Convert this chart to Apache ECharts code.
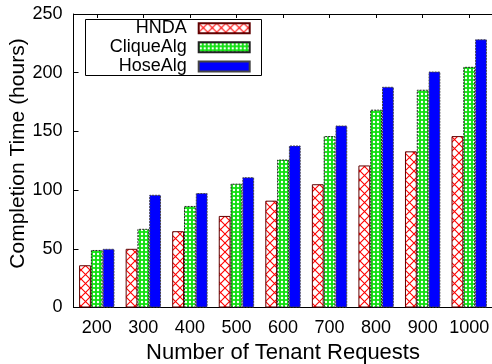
<!DOCTYPE html>
<html>
<head>
<meta charset="utf-8">
<script src="https://cdn.jsdelivr.net/npm/echarts@6/dist/echarts.min.js"></script>
<style>html,body{margin:0;padding:0;background:#fff}#c{width:492px;height:364px}</style>
</head>
<body>
<div id="c"></div>
<script>
var categories = ['200','300','400','500','600','700','800','900','1000'];
var hnda = [36, 50, 65, 78, 91, 105, 121, 133, 146];
var clique = [49, 67, 86.5, 105.5, 126, 146, 168.5, 185.5, 205];
var hose = [50, 96, 97.5, 111, 138, 155, 188, 201, 228.5];
var seriesNames = ['HNDA', 'CliqueAlg', 'HoseAlg'];
var yTicks = [0, 50, 100, 150, 200, 250];

function crossPattern() {
  var s = 9;
  var c = document.createElement('canvas'); c.width = s; c.height = s;
  var g = c.getContext('2d');
  g.fillStyle = '#fff'; g.fillRect(0, 0, s, s);
  g.strokeStyle = '#ff0000'; g.lineWidth = 1.1;
  g.beginPath(); g.moveTo(0, 0); g.lineTo(s, s); g.moveTo(s, 0); g.lineTo(0, s); g.stroke();
  return c;
}
function dotPattern() {
  var c = document.createElement('canvas'); c.width = 4; c.height = 4;
  var g = c.getContext('2d');
  g.fillStyle = '#10e010'; g.fillRect(0, 0, 4, 4);
  g.fillStyle = '#ffffff';
  g.beginPath(); g.arc(2, 2, 1.2, 0, Math.PI * 2); g.fill();
  return c;
}
var redFill = {image: crossPattern(), repeat: 'repeat'};
var greenFill = {image: dotPattern(), repeat: 'repeat'};

var font = 'Liberation Sans, Arial, sans-serif';
var chart = echarts.init(document.getElementById('c'), null, {renderer: 'canvas'});

var styles = [
  {color: redFill, borderColor: '#600000', borderWidth: 1},
  {color: greenFill, borderColor: '#222', borderWidth: 1, borderType: [2, 1]},
  {color: '#0000ff', borderColor: '#444', borderWidth: 1, borderType: [2, 1]}
];
var rowCenters = [28.3, 47.3, 66.5];
var legends = seriesNames.map(function (n, i) {
  return {
    data: [n], right: 241.3, top: rowCenters[i] - 9, orient: 'vertical', align: 'right',
    padding: 0, itemWidth: 51, itemHeight: 10, itemGap: 0, icon: 'rect',
    textStyle: {fontFamily: font, fontSize: 18, color: '#000', padding: [0, 7, 0, 0]},
    selectedMode: false
  };
});

chart.setOption({
  animation: false,
  backgroundColor: '#fff',
  grid: {left: 73.5, top: 14, width: 419, height: 293.5, containLabel: false, outerBoundsMode: 'none'},
  legend: legends,
  graphic: [
    {type: 'rect', shape: {x: 85.5, y: 19.5, width: 176, height: 56}, style: {fill: null, stroke: '#000', lineWidth: 1}, z: 5},
    {type: 'text', x: 18, y: 153.5, rotation: Math.PI / 2,
     style: {text: 'Completion Time (hours)', fontFamily: font, fontSize: 21, fill: '#000', align: 'center', verticalAlign: 'middle'}}
  ],
  xAxis: [
    {type: 'category', data: categories, position: 'bottom',
     axisLine: {lineStyle: {color: '#000', width: 1}},
     axisTick: {show: true, inside: true, alignWithLabel: true, length: 5, lineStyle: {color: '#000'}},
     axisLabel: {fontFamily: font, fontSize: 18, color: '#000', margin: 12, interval: 0, hideOverlap: false},
     name: 'Number of Tenant Requests', nameLocation: 'middle', nameGap: 31,
     nameTextStyle: {fontFamily: font, fontSize: 22, color: '#000'}},
    {type: 'category', data: categories, position: 'top',
     axisLine: {lineStyle: {color: '#000', width: 1}},
     axisTick: {show: true, inside: true, alignWithLabel: true, length: 4, lineStyle: {color: '#000'}},
     axisLabel: {show: false}}
  ],
  yAxis: {
    type: 'value', min: 0, max: 250, interval: 50,
    axisLine: {show: true, lineStyle: {color: '#000', width: 1}},
    axisTick: {show: true, inside: true, length: 5, lineStyle: {color: '#000'}},
    axisLabel: {fontFamily: font, fontSize: 18, color: '#000', margin: 11,
      formatter: function (v) { return yTicks.indexOf(v) >= 0 ? String(v) : ''; }},
    splitLine: {show: false}
  },
  series: [hnda, clique, hose].map(function (d, i) {
    return {
      name: seriesNames[i], type: 'bar', data: d, xAxisIndex: 0,
      barGap: '0%', barCategoryGap: '24%',
      itemStyle: styles[i]
    };
  })
});
</script>
</body>
</html>
